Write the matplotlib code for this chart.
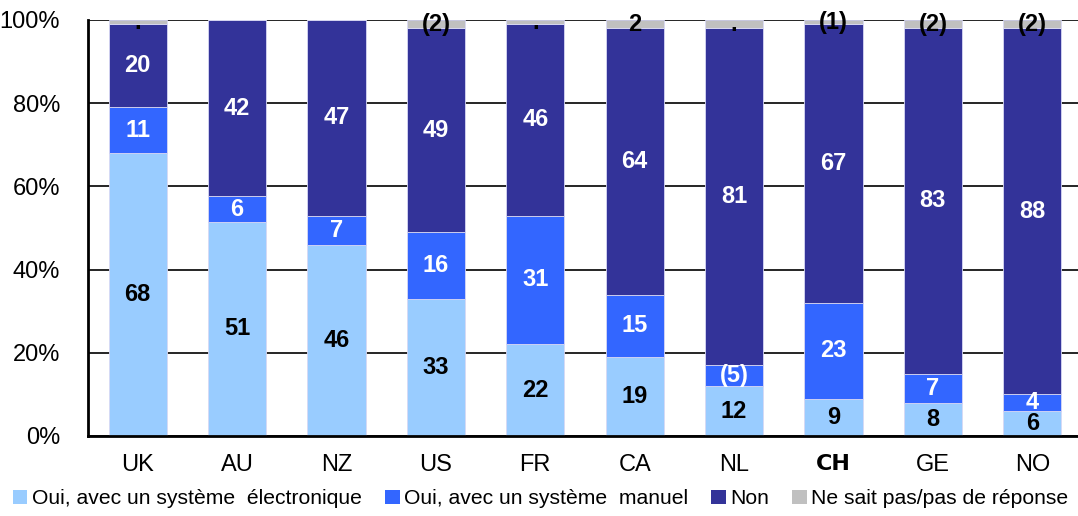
import numpy as np
import matplotlib
matplotlib.use("Agg")
import matplotlib.pyplot as plt
import matplotlib.patches as patches

countries = ["UK", "AU", "NZ", "US", "FR", "CA", "NL", "CH", "GE", "NO"]
electronique = [68, 51, 46, 33, 22, 19, 12, 9, 8, 6]
manuel = [11, 6, 7, 16, 31, 15, 5, 23, 7, 4]
non = [20, 42, 47, 49, 46, 64, 81, 67, 83, 88]
ne_sait_pas = [1, 0, 0, 2, 1, 2, 2, 1, 2, 2]

manuel_labels = ["11", "6", "7", "16", "31", "15", "(5)", "23", "7", "4"]
nsp_labels = [".", "", "", "(2)", ".", "2", ".", "(1)", "(2)", "(2)"]

series_names = ["Oui, avec un système  électronique", "Oui, avec un système  manuel",
                "Non", "Ne sait pas/pas de réponse"]
colors = ["#99CCFF", "#3366FF", "#333399", "#C0C0C0"]

plt.rcParams["font.family"] = ["Liberation Sans", "DejaVu Sans"]

fig = plt.figure(figsize=(10.78, 5.16), dpi=100)
ax = fig.add_axes([88 / 1078, 1 - 436 / 516, 1 - 88 / 1078, 416 / 516])

data = np.array([electronique, manuel, non, ne_sait_pas], dtype=float)
shares = data / data.sum(axis=0) * 100  # 100% stacked
x = np.arange(len(countries))
width = 0.585

bottom = np.zeros(len(countries))
for i in range(4):
    ax.bar(x, shares[i], width, bottom=bottom, color=colors[i],
           edgecolor="#d8d8f4", linewidth=0.6, label=series_names[i], zorder=2)
    centers = bottom + shares[i] / 2
    for j in range(len(countries)):
        if i == 0:
            txt, col = str(electronique[j]), "black"
        elif i == 1:
            txt, col = manuel_labels[j], "white"
        elif i == 2:
            txt, col = str(non[j]), "white"
        else:
            txt, col = nsp_labels[j], "black"
        if txt:
            ax.text(x[j], centers[j], txt, ha="center", va="center", fontsize=17,
                    fontweight="bold", color=col, zorder=4)
    bottom += shares[i]

ax.set_xlim(-0.5, 9.46)
ax.set_ylim(0, 100)
ax.set_yticks([0, 20, 40, 60, 80, 100])
ax.set_yticklabels(["0%", "20%", "40%", "60%", "80%", "100%"])
ax.set_xticks(x)
ax.set_xticklabels(countries)
ax.tick_params(axis="y", length=0, pad=20, labelsize=17)
ax.tick_params(axis="x", length=0, pad=13, labelsize=17)
for lbl in ax.get_xticklabels():
    if lbl.get_text() == "CH":
        lbl.set_fontfamily("DejaVu Sans")
        lbl.set_fontweight("bold")
        lbl.set_fontsize(16)

ax.set_axisbelow(True)
ax.yaxis.grid(True, color="black", linewidth=1.2)
ax.spines["top"].set_visible(False)
ax.spines["right"].set_visible(False)
ax.spines["left"].set_linewidth(2)
ax.spines["bottom"].set_linewidth(2)

handles = [patches.Patch(facecolor=c, edgecolor="none") for c in colors]
fig.legend(handles, series_names, loc="lower left", bbox_to_anchor=(0.0, -0.01),
           ncol=4, frameon=False, fontsize=15.2, handlelength=0.7, handleheight=0.7,
           handletextpad=0.2, columnspacing=1.1, borderaxespad=0.2)

fig.savefig("out.png", dpi=100)
